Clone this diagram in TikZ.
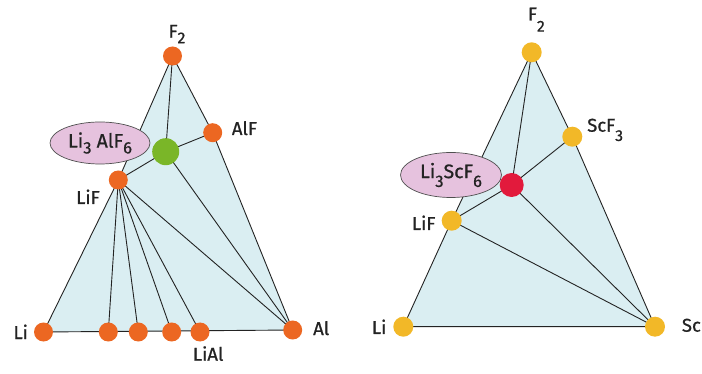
\documentclass[tikz,border=0pt]{standalone}
\usepackage{fontspec}
\setmainfont{Fira Sans}[FakeBold=0.8]
\usetikzlibrary{shapes.geometric,backgrounds}
\definecolor{phasefill}{RGB}{218,238,242}
\definecolor{dotorange}{RGB}{236,103,34}
\definecolor{dotyellow}{RGB}{242,184,40}
\definecolor{dotgreen}{RGB}{122,182,40}
\definecolor{dotred}{RGB}{226,26,60}
\definecolor{ovalpink}{RGB}{230,194,222}
\definecolor{ink}{RGB}{35,35,35}
% lowered, slightly smaller index digit
\newcommand\lowidx[2][0.3em]{\raisebox{-#1}{\scalebox{0.85}{#2}}}

\begin{document}
\begin{tikzpicture}[x=1pt,y=-1pt,
  dot/.style={circle,inner sep=0pt,minimum size=19pt},
  odot/.style={dot,fill=dotorange},
  ydot/.style={dot,fill=dotyellow,minimum size=20pt},
  edge/.style={draw=ink,line width=0.9pt},
  oval/.style={ellipse,draw=ink!80,line width=0.7pt,fill=ovalpink,inner sep=0pt,
    minimum width=100pt,minimum height=42pt,text=ink,font=\fontsize{19.5}{19.5}\selectfont},
  lbl/.style={anchor=base west,inner sep=0pt,text=ink,font=\fontsize{18.5}{18.5}\selectfont}]
\useasboundingbox (0,0) rectangle (702,374);

% ---------- Li-Al-F system ----------
\node[odot] (lF2) at (172.5,56) {};
\node[odot] (lAlF) at (212.7,132.7) {};
\node[dot,fill=dotgreen,minimum size=27pt] (lMid) at (165.7,151.7) {};
\node[odot] (lLiF) at (118.3,180) {};
\node[odot] (lLi) at (43.5,332) {};
\node[odot] (lP1) at (108.3,332) {};
\node[odot] (lP2) at (138.3,332) {};
\node[odot] (lP3) at (171.7,332) {};
\node[odot] (lLiAl) at (200,332) {};
\node[odot] (lAl) at (292.7,330) {};

% ---------- Li-Sc-F system ----------
\node[ydot] (rF2) at (531.7,52.3) {};
\node[ydot] (rScF3) at (572.3,136.7) {};
\node[dot,fill=dotred,minimum size=24pt] (rMid) at (511.7,185) {};
\node[ydot] (rLiF) at (451.7,220.7) {};
\node[ydot] (rLi) at (403.3,326.7) {};
\node[ydot] (rSc) at (655,326.7) {};

\begin{pgfonlayer}{background}
  % triangles
  \fill[phasefill] (lLi.center) -- (lLiF.center) -- (lF2.center) -- (lAlF.center) -- (lAl.center) -- cycle;
  \draw[edge] (lLi.center) -- (lLiF.center) -- (lF2.center) -- (lAlF.center) -- (lAl.center) -- cycle;
  \fill[phasefill] (rLi.center) -- (rLiF.center) -- (rF2.center) -- (rScF3.center) -- (rSc.center) -- cycle;
  \draw[edge] (rLi.center) -- (rLiF.center) -- (rF2.center) -- (rScF3.center) -- (rSc.center) -- cycle;
  % tie lines
  \draw[edge] (lF2.center) -- (lMid.center) -- (lAlF.center);
  \draw[edge] (lLiF.center) -- (lMid.center) -- (lAl.center);
  \draw[edge] (lLiF.center) -- (lAl.center);
  \foreach \p in {lP1,lP2,lP3,lLiAl} \draw[edge] (lLiF.center) -- (\p.center);
  \draw[edge] (rF2.center) -- (rMid.center) -- (rScF3.center);
  \draw[edge] (rLiF.center) -- (rMid.center) -- (rSc.center);
  \draw[edge] (rLiF.center) -- (rSc.center);
  % compound ovals
  \node[oval] (lOval) at (100,143) {Li\lowidx{3} AlF\lowidx{6}};
  \node[oval,minimum width=101pt,minimum height=45pt] (rOval) at (451,175) {Li\lowidx[0.45em]{3}ScF\lowidx[0.45em]{6}};
\end{pgfonlayer}

% labels
\node[lbl] (tlF2) at (168.3,37.7) {F\lowidx{2}};
\node[lbl] (tlAlF) at (231.7,135) {AlF};
\node[lbl] (tlLiF) at (76,204) {LiF};
\node[lbl] (tlLi) at (13.3,339) {Li};
\node[lbl] (tlAl) at (313,335) {Al};
\node[lbl] (tlLiAl) at (192.7,360.7) {LiAl};

\node[lbl] (trF2) at (527.7,20.5) {F\lowidx[0.6em]{2}};
\node[lbl] (trScF3) at (587,131.7) {ScF\lowidx[0.5em]{3}};
\node[lbl] (trLiF) at (411.7,230) {LiF};
\node[lbl] (trLi) at (371.7,334) {Li};
\node[lbl] (trSc) at (681.7,331.7) {Sc};
\end{tikzpicture}
\end{document}
